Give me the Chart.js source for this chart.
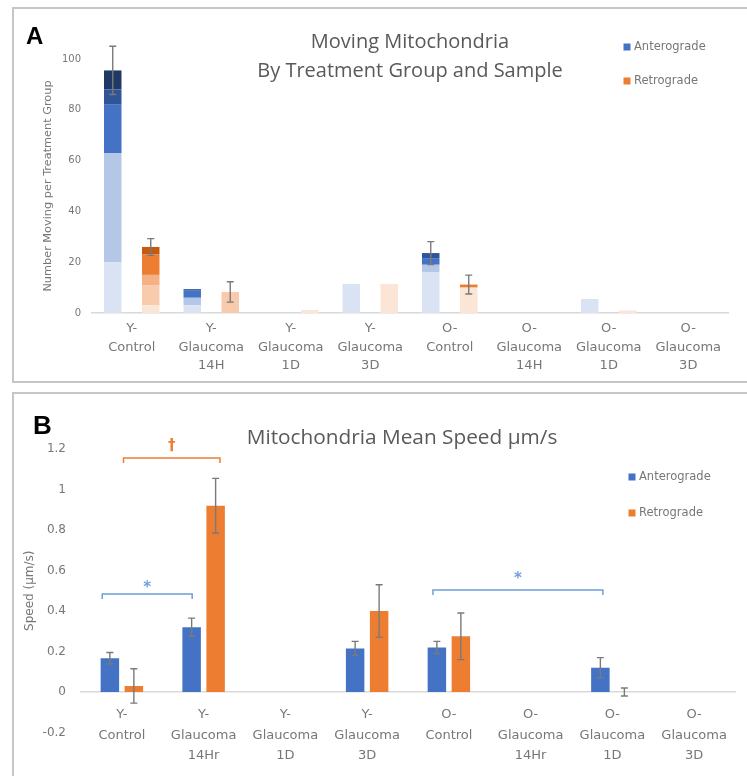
<!DOCTYPE html>
<html>
<head>
<meta charset="utf-8">
<script src="https://cdn.jsdelivr.net/npm/chart.js@4.4.1/dist/chart.umd.min.js"></script>
<style>
  body { margin: 0; background: #fff; width: 747px; height: 776px; overflow: hidden; position: relative; }
  .frame { position: absolute; left: 12px; width: 760px; border: 2px solid #c6c6c6; }
  #frameA { top: 7px; height: 372px; }
  #frameB { top: 392px; height: 400px; }
  .box { position: absolute; left: 0; width: 747px; }
  #boxA { top: 0; height: 385px; }
  #boxB { top: 385px; height: 391px; }
</style>
</head>
<body>
<div class="frame" id="frameA"></div>
<div class="frame" id="frameB"></div>
<div class="box" id="boxA"><canvas id="chartA"></canvas></div>
<div class="box" id="boxB"><canvas id="chartB"></canvas></div>
<script>
// ---- panel A: moving mitochondria, stacked by sample ----
const catsA = [['Y-', 'Control'], ['Y-', 'Glaucoma', '14H'], ['Y-', 'Glaucoma', '1D'], ['Y-', 'Glaucoma', '3D'],
  ['O-', 'Control'], ['O-', 'Glaucoma', '14H'], ['O-', 'Glaucoma', '1D'], ['O-', 'Glaucoma', '3D']];
const anteS1 = [20, 3, 0, 11.4, 16, 0, 5.5, 0];
const anteS2 = [43, 3, 0, 0, 3, 0, 0, 0];
const anteS3 = [19, 3, 0, 0, 2.6, 0, 0, 0];
const anteS4 = [6, 0.4, 0, 0, 2, 0, 0, 0];
const anteS5 = [7.5, 0, 0, 0, 0, 0, 0, 0];
const anteErrA = [9.5, 0, 0, 0, 4.5, 0, 0, 0];
const retroS1 = [3, 0, 1.2, 11.4, 10, 0, 1, 0];
const retroS2 = [8, 8.3, 0, 0, 0, 0, 0, 0];
const retroS3 = [4, 0, 0, 0, 0, 0, 0, 0];
const retroS4 = [8, 0, 0, 0, 1.2, 0, 0, 0];
const retroS5 = [3, 0, 0, 0, 0, 0, 0, 0];
const retroErrA = [3.3, 4, 0, 0, 3.7, 0, 0, 0];
const ticksA = [0, 20, 40, 60, 80, 100];

// ---- panel B: mean speed ----
const catsB = [['Y-', 'Control'], ['Y-', 'Glaucoma', '14Hr'], ['Y-', 'Glaucoma', '1D'], ['Y-', 'Glaucoma', '3D'],
  ['O-', 'Control'], ['O-', 'Glaucoma', '14Hr'], ['O-', 'Glaucoma', '1D'], ['O-', 'Glaucoma', '3D']];
const anteSpeed = [0.167, 0.32, null, 0.215, 0.22, null, 0.12, null];
const anteErrB = [0.028, 0.045, null, 0.035, 0.03, null, 0.05, null];
const retroSpeed = [0.03, 0.92, null, 0.40, 0.275, null, 0, null];
const retroErrB = [0.085, 0.135, null, 0.13, 0.115, null, 0.02, null];
const ticksB = [-0.2, 0, 0.2, 0.4, 0.6, 0.8, 1, 1.2];
// significance brackets (category index span, height in um/s)
const bracketsB = [
  { from: 0.02, to: 1.2, at: 1.156, mark: '†', markAt: 1.215, color: '#ed7d31' },
  { from: -0.24, to: 0.86, at: 0.484, mark: '*', markAt: 0.53, color: '#6f9fdc' },
  { from: 3.805, to: 5.884, at: 0.504, mark: '*', markAt: 0.57, color: '#6f9fdc' }
];

const BLUE = '#4472c4', ORANGE = '#ed7d31';
const anteShades = ['#dae3f3', '#b4c7e7', '#4472c4', '#2f5597', '#203864'];
const retroShades = ['#fbe5d6', '#f8cbad', '#f4b183', '#ed7d31', '#c55a11'];
const TICK = '#777';

Chart.defaults.font.family = '"DejaVu Sans"';
Chart.defaults.color = TICK;

const errorBars = {
  id: 'errorBars',
  afterDatasetsDraw(chart, args, opts) {
    const ctx = chart.ctx, y = chart.scales.y;
    ctx.save();
    ctx.strokeStyle = '#7a7a7a';
    ctx.lineWidth = 1.4;
    opts.groups.forEach(g => {
      const meta = chart.getDatasetMeta(g.top);
      g.err.forEach((e, i) => {
        if (!e) return;
        const v = g.sets.reduce((s, d) => s + (chart.data.datasets[d].data[i] || 0), 0);
        const x = meta.data[i].x;
        const y1 = y.getPixelForValue(v + e), y2 = y.getPixelForValue(v - e);
        ctx.beginPath();
        ctx.moveTo(x, y1); ctx.lineTo(x, y2);
        ctx.moveTo(x - 3.5, y1); ctx.lineTo(x + 3.5, y1);
        ctx.moveTo(x - 3.5, y2); ctx.lineTo(x + 3.5, y2);
        ctx.stroke();
      });
    });
    ctx.restore();
  }
};

const overlay = {
  id: 'overlay',
  afterDraw(chart, args, o) {
    const ctx = chart.ctx, ca = chart.chartArea;
    ctx.save();
    ctx.textBaseline = 'middle';
    ctx.textAlign = 'left';
    ctx.fillStyle = '#000';
    ctx.font = 'bold ' + o.letterSize + 'px "Liberation Sans"';
    ctx.fillText(o.letter, o.letterX, o.letterY);

    ctx.fillStyle = '#595959';
    ctx.font = o.titleSize + 'px "Open Sans"';
    ctx.textAlign = 'center';
    const cx = (ca.left + ca.right) / 2 + (o.titleShift || 0);
    o.title.forEach((t, k) => ctx.fillText(t, cx, o.titleY + k * o.titleGap));

    ctx.textAlign = 'left';
    ctx.font = '11.5px "DejaVu Sans"';
    o.legend.forEach((it, k) => {
      const ly = o.legendY + k * o.legendGap;
      ctx.fillStyle = it.color;
      ctx.fillRect(o.legendX - 3.5, ly - 3.5, 7, 7);
      ctx.fillStyle = TICK;
      ctx.fillText(it.text, o.legendX + 7, ly);
    });

    if (o.brackets) {
      const xs = chart.scales.x, ys = chart.scales.y;
      o.brackets.forEach(b => {
        const x1 = xs.getPixelForValue(b.from), x2 = xs.getPixelForValue(b.to);
        const yb = ys.getPixelForValue(b.at);
        ctx.strokeStyle = b.color;
        ctx.lineWidth = 1.5;
        ctx.beginPath();
        ctx.moveTo(x1, yb + 5); ctx.lineTo(x1, yb); ctx.lineTo(x2, yb); ctx.lineTo(x2, yb + 5);
        ctx.stroke();
        ctx.fillStyle = b.color;
        ctx.textAlign = 'center';
        ctx.font = 'bold 15px "DejaVu Sans"';
        ctx.fillText(b.mark, (x1 + x2) / 2, ys.getPixelForValue(b.markAt) + (b.mark === '*' ? 3 : 0));
      });
    }
    ctx.restore();
  }
};

function stackSet(data, color, stack) {
  return { data, backgroundColor: color, stack, categoryPercentage: 0.956, barPercentage: 0.46 };
}

new Chart(document.getElementById('chartA'), {
  type: 'bar',
  data: {
    labels: catsA,
    datasets: [
      stackSet(anteS1, anteShades[0], 'ante'), stackSet(anteS2, anteShades[1], 'ante'),
      stackSet(anteS3, anteShades[2], 'ante'), stackSet(anteS4, anteShades[3], 'ante'),
      stackSet(anteS5, anteShades[4], 'ante'),
      stackSet(retroS1, retroShades[0], 'retro'), stackSet(retroS2, retroShades[1], 'retro'),
      stackSet(retroS3, retroShades[2], 'retro'), stackSet(retroS4, retroShades[3], 'retro'),
      stackSet(retroS5, retroShades[4], 'retro')
    ]
  },
  plugins: [errorBars, overlay],
  options: {
    responsive: true,
    maintainAspectRatio: false,
    animation: false,
    layout: { padding: { left: 13, right: 19, top: 59, bottom: 12 } },
    plugins: {
      legend: { display: false },
      tooltip: { enabled: false },
      errorBars: { groups: [
        { sets: [0, 1, 2, 3, 4], top: 4, err: anteErrA },
        { sets: [5, 6, 7, 8, 9], top: 9, err: retroErrA }
      ] },
      overlay: {
        letter: 'A', letterSize: 24, letterX: 26, letterY: 37,
        title: ['Moving Mitochondria', 'By Treatment Group and Sample'], titleY: 42, titleGap: 29, titleSize: 20,
        legend: [{ text: 'Anterograde', color: BLUE }, { text: 'Retrograde', color: ORANGE }],
        legendX: 627, legendY: 47, legendGap: 34
      }
    },
    scales: {
      x: {
        stacked: true,
        grid: { display: false, drawTicks: false },
        border: { display: true, color: '#d9d9d9', width: 1.5 },
        ticks: { font: { size: 13, lineHeight: 1.4 }, color: TICK, padding: 7, maxRotation: 0, autoSkip: false },
        afterFit(s) { s.height = 60; }
      },
      y: {
        stacked: true,
        min: 0, max: 100,
        grid: { display: false, drawTicks: false },
        border: { display: false },
        afterBuildTicks(s) { s.ticks = ticksA.map(v => ({ value: v })); },
        ticks: { font: { size: 10 }, color: TICK, padding: 11 },
        title: { display: true, text: 'Number Moving per Treatment Group', font: { size: 11.3 }, color: TICK, padding: { top: 28, bottom: 0 } },
        afterFit(s) { s.width = 79; }
      }
    }
  }
});

new Chart(document.getElementById('chartB'), {
  type: 'bar',
  data: {
    labels: catsB,
    datasets: [
      { label: 'Anterograde', data: anteSpeed, backgroundColor: BLUE, categoryPercentage: 0.587, barPercentage: 0.77 },
      { label: 'Retrograde', data: retroSpeed, backgroundColor: ORANGE, categoryPercentage: 0.587, barPercentage: 0.77 }
    ]
  },
  plugins: [errorBars, overlay],
  options: {
    responsive: true,
    maintainAspectRatio: false,
    animation: false,
    layout: { padding: { left: 13, right: 12, top: 64, bottom: 43.5 } },
    plugins: {
      legend: { display: false },
      tooltip: { enabled: false },
      errorBars: { groups: [
        { sets: [0], top: 0, err: anteErrB },
        { sets: [1], top: 1, err: retroErrB }
      ] },
      overlay: {
        letter: 'B', letterSize: 26, letterX: 33, letterY: 42,
        title: ['Mitochondria Mean Speed µm/s'], titleY: 53, titleGap: 0, titleSize: 20.8, titleShift: -6,
        legend: [{ text: 'Anterograde', color: BLUE }, { text: 'Retrograde', color: ORANGE }],
        legendX: 632, legendY: 92, legendGap: 36,
        brackets: bracketsB
      }
    },
    scales: {
      x: {
        position: { y: 0 },
        grid: { display: false, drawTicks: false },
        border: { display: true, color: '#d9d9d9', width: 1.5 },
        ticks: { font: { size: 13, lineHeight: 1.55 }, color: TICK, padding: 13, maxRotation: 0, autoSkip: false }
      },
      y: {
        min: -0.2, max: 1.2,
        grid: { display: false, drawTicks: false },
        border: { display: false },
        afterBuildTicks(s) { s.ticks = ticksB.map(v => ({ value: v })); },
        ticks: { font: { size: 12 }, color: TICK, padding: 15, callback: v => String(Math.round(v * 10) / 10) },
        title: { display: true, text: 'Speed (µm/s)', font: { size: 12 }, color: TICK, padding: { top: 10, bottom: 0 } },
        afterFit(s) { s.width = 68; }
      }
    }
  }
});
</script>
</body>
</html>
